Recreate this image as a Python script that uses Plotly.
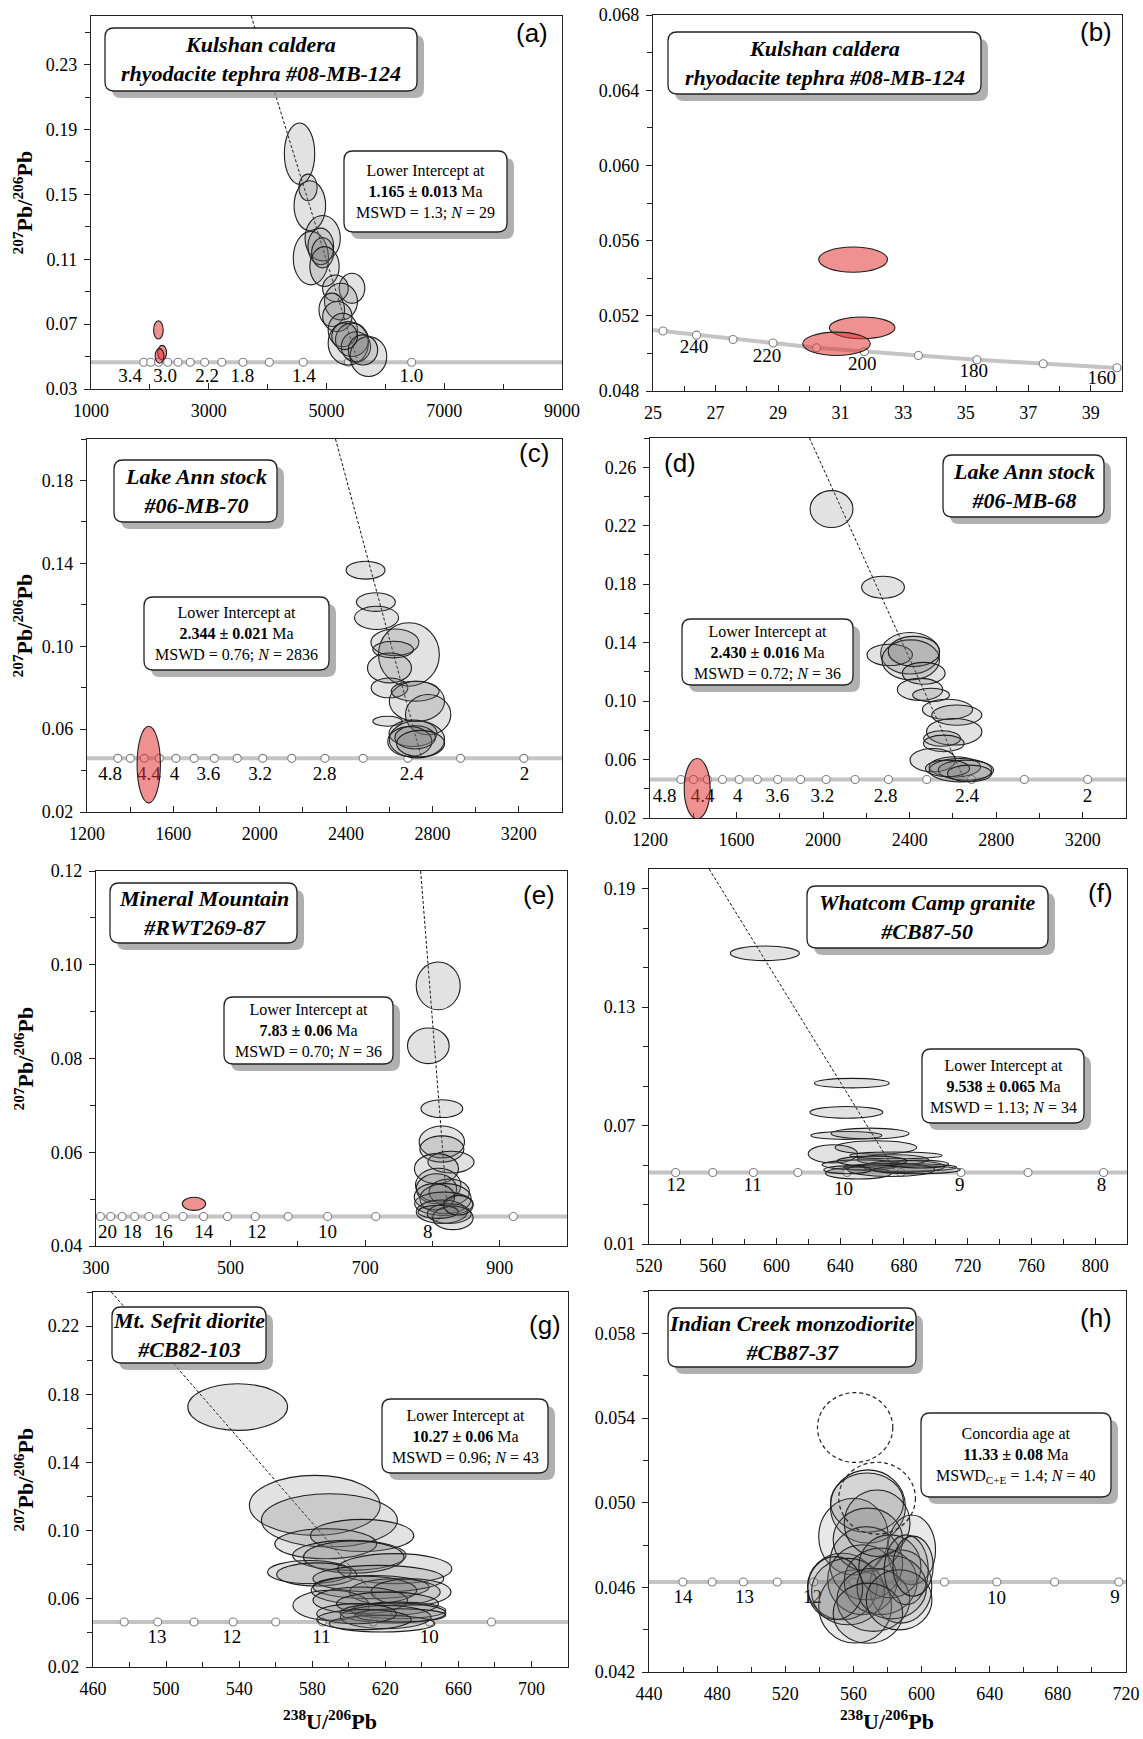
import plotly.graph_objects as go

W, H = 1143, 1739
SERIF = "Liberation Serif, Times New Roman, serif"
SANS = "Liberation Sans, Arial, sans-serif"

# ======================= DATA =======================
# ---- (a) Kulshan caldera tephra ----
A_cx = [4542, 4686, 4717, 4735, 4935, 4903, 4935, 4966, 5433, 5152, 5246, 5090, 5184, 5277, 5370, 5433, 5500, 5713, 5620, 5308]
A_cy = [0.1751, 0.1543, 0.1430, 0.1107, 0.1230, 0.1179, 0.1140, 0.1055, 0.0921, 0.0921, 0.0839, 0.0788, 0.0747, 0.0664, 0.0582, 0.0603, 0.0560, 0.0500, 0.0541, 0.0625]
A_rx = [258, 156, 268, 299, 299, 218, 187, 249, 218, 218, 280, 218, 249, 249, 342, 280, 249, 311, 249, 218]
A_ry = [0.0189, 0.0082, 0.0154, 0.0165, 0.0140, 0.0113, 0.0093, 0.0123, 0.0093, 0.0082, 0.0113, 0.0103, 0.0093, 0.0103, 0.0134, 0.0103, 0.0093, 0.0123, 0.0093, 0.0082]
A_red_cx = [2145, 2208, 2164]
A_red_cy = [0.0664, 0.0524, 0.0504]
A_red_rx = [81, 75, 75]
A_red_ry = [0.0056, 0.0045, 0.0045]
A_conc_y = 0.0465
A_mark_x = [1896, 2014, 2148, 2302, 2479, 2686, 2930, 3223, 3581, 4029, 4604, 5372, 6446]
A_lab_t = ["3.4", "3.0", "2.2", "1.8", "1.4", "1.0"]
A_lab_x = [1666, 2258, 2973, 3571, 4617, 6441]
A_lab_y = [0.0370] * 6
A_disc_x = [3721, 5533]
A_disc_y = [0.26, 0.0465]

# ---- (b) Kulshan caldera, inherited zircon ----
B_red_cx = [31.40, 31.69, 30.87]
B_red_cy = [0.05499, 0.05136, 0.05051]
B_red_rx = [1.10, 1.05, 1.08]
B_red_ry = [0.00067, 0.00058, 0.00062]
B_mark_x = [25.32, 26.39, 27.56, 28.84, 30.23, 31.76, 33.49, 35.36, 37.48, 39.84]
B_mark_y = [0.05119, 0.05097, 0.05074, 0.05055, 0.05030, 0.05009, 0.04989, 0.04966, 0.04945, 0.04924]
B_edge_x = [25.0, 40.0]
B_edge_y = [0.05125, 0.04921]
B_lab_t = ["240", "220", "200", "180", "160"]
B_lab_x = [26.31, 28.65, 31.69, 35.26, 39.35]
B_lab_y = [0.0503, 0.04982, 0.04936, 0.04901, 0.04862]

# ---- (c) Lake Ann stock #06-MB-70 ----
C_cx = [2490, 2538, 2541, 2626, 2691, 2618, 2601, 2601, 2720, 2728, 2780, 2592, 2710, 2728, 2695, 2720, 2745]
C_cy = [0.1367, 0.1213, 0.1137, 0.1019, 0.0960, 0.0984, 0.0895, 0.0799, 0.0783, 0.0734, 0.0670, 0.0638, 0.0580, 0.0550, 0.0540, 0.0560, 0.0530]
C_rx = [90, 90, 102, 111, 141, 94, 102, 85, 111, 128, 105, 68, 111, 128, 102, 94, 111]
C_ry = [0.0043, 0.0045, 0.0056, 0.0064, 0.0153, 0.0040, 0.0072, 0.0048, 0.0048, 0.0097, 0.0097, 0.0024, 0.0064, 0.0089, 0.0072, 0.0056, 0.0064]
C_red_cx = [1486]
C_red_cy = [0.0429]
C_red_rx = [54]
C_red_ry = [0.0185]
C_conc_y = 0.0459
C_mark_x = [1343, 1401, 1465, 1535, 1612, 1696, 1790, 1896, 2014, 2148, 2302, 2479, 2686, 2930, 3223]
C_lab_t = ["4.8", "4.4", "4", "3.6", "3.2", "2.8", "2.4", "2"]
C_lab_x = [1307, 1486, 1605, 1762, 2002, 2300, 2703, 3226]
C_lab_y = [0.0375] * 8
C_disc_x = [2351, 2750]
C_disc_y = [0.20, 0.0459]

# ---- (d) Lake Ann stock #06-MB-68 ----
D_cx = [2039, 2277, 2402, 2308, 2405, 2420, 2465, 2448, 2499, 2575, 2618, 2606, 2550, 2558, 2507, 2609, 2635, 2660, 2575, 2677]
D_cy = [0.2314, 0.1779, 0.1327, 0.1316, 0.1282, 0.1340, 0.1190, 0.1080, 0.1042, 0.0943, 0.0904, 0.0790, 0.0744, 0.0710, 0.0596, 0.0550, 0.0527, 0.0527, 0.0539, 0.0505]
D_rx = [99, 99, 136, 105, 133, 119, 99, 105, 85, 116, 116, 128, 85, 94, 105, 119, 145, 128, 102, 102]
D_ry = [0.0126, 0.0075, 0.0142, 0.0073, 0.0137, 0.0103, 0.0075, 0.0075, 0.0046, 0.0069, 0.0069, 0.0091, 0.0053, 0.0057, 0.0080, 0.0069, 0.0080, 0.0069, 0.0057, 0.0057]
D_red_cx = [1418]
D_red_cy = [0.0401]
D_red_rx = [60]
D_red_ry = [0.0206]
D_conc_y = 0.0463
D_mark_x = [1343, 1401, 1465, 1535, 1612, 1696, 1790, 1896, 2014, 2148, 2302, 2479, 2686, 2930, 3223]
D_lab_t = ["4.8", "4.4", "4", "3.6", "3.2", "2.8", "2.4", "2"]
D_lab_x = [1268, 1443, 1605, 1789, 1997, 2289, 2666, 3222]
D_lab_y = [0.0344] * 8
D_disc_x = [1937, 2653]
D_disc_y = [0.28, 0.0463]

# ---- (e) Mineral Mountain #RWT269-87 ----
E_cx = [808.6, 793.9, 814.0, 814.0, 814.0, 827.6, 806.0, 808.6, 806.0, 825.0, 819.5, 817.0, 803.0, 814.0, 825.0, 830.5, 808.6, 838.6]
E_cy = [0.0955, 0.0827, 0.0693, 0.0622, 0.0607, 0.0579, 0.0565, 0.0530, 0.0522, 0.0515, 0.0501, 0.0490, 0.0505, 0.0473, 0.0469, 0.0460, 0.0473, 0.0487]
E_rx = [32.7, 31.0, 31.0, 33.7, 32.7, 34.3, 32.7, 33.7, 30.0, 30.0, 38.1, 43.5, 30.0, 38.1, 32.7, 30.0, 30.0, 21.8]
E_ry = [0.0051, 0.0038, 0.0019, 0.0034, 0.0028, 0.0023, 0.0032, 0.0036, 0.0032, 0.0028, 0.0032, 0.0025, 0.0028, 0.0025, 0.0021, 0.0025, 0.0014, 0.0021]
E_red_cx = [445.6]
E_red_cy = [0.0490]
E_red_rx = [17.4]
E_red_ry = [0.0014]
E_conc_y = 0.0463
E_mark_x = [306.5, 321.8, 338.8, 357.6, 378.6, 402.4, 429.3, 459.9, 495.4, 536.7, 585.5, 644.2, 715.8, 805.3, 920.3]
E_lab_t = ["20", "18", "16", "14", "12", "10", "8"]
E_lab_x = [317, 354, 400, 460, 539, 644, 793]
E_lab_y = [0.0428] * 7
E_disc_x = [782.5, 823]
E_disc_y = [0.12, 0.0463]

# ---- (f) Whatcom Camp granite #CB87-50 ----
F_cx = [592.7, 647.3, 643.9, 643.9, 658.7, 635.4, 662.4, 673.0, 675.0, 653.7, 677.7, 680.0, 651.4, 672.0, 688.0, 644.6, 690.0, 660.0]
F_cy = [0.1573, 0.0915, 0.0767, 0.0650, 0.0660, 0.0557, 0.0589, 0.0527, 0.0549, 0.0501, 0.0488, 0.0493, 0.0459, 0.0476, 0.0476, 0.0476, 0.0505, 0.0520]
F_rx = [21.7, 23.5, 22.9, 22.3, 24.5, 15.5, 25.6, 22.4, 29.0, 25.1, 35.4, 25.6, 20.6, 27.4, 27.4, 14.9, 18.0, 22.0]
F_ry = [0.0037, 0.0024, 0.0030, 0.0020, 0.0027, 0.0046, 0.0034, 0.0025, 0.0017, 0.0025, 0.0020, 0.0030, 0.0030, 0.0034, 0.0020, 0.0020, 0.0020, 0.0025]
F_conc_y = 0.0462
F_mark_x = [536.7, 560.0, 585.5, 613.4, 644.2, 678.1, 715.8, 757.9, 805.3]
F_lab_t = ["12", "11", "10", "9", "8"]
F_lab_x = [537, 585, 642, 715, 804]
F_lab_y = [0.0391, 0.0391, 0.0374, 0.0391, 0.0391]
F_disc_x = [557.7, 675.0]
F_disc_y = [0.20, 0.0462]

# ---- (g) Mt. Sefrit diorite #CB82-103 ----
G_cx = [539.2, 581.4, 589.4, 607.3, 587.4, 600.3, 602.7, 578.4, 582.4, 625.2, 616.2, 612.2, 625.2, 608.3, 634.1, 590.3, 606.3, 621.2, 627.2, 624.2, 620.2, 618.2, 628.2, 604.3, 608.3]
G_cy = [0.1725, 0.1148, 0.1060, 0.0972, 0.0923, 0.0855, 0.0845, 0.0757, 0.0743, 0.0777, 0.0718, 0.0669, 0.0640, 0.0650, 0.0640, 0.0562, 0.0591, 0.0571, 0.0532, 0.0517, 0.0493, 0.0454, 0.0503, 0.0513, 0.0478]
G_rx = [27.3, 35.8, 37.2, 28.3, 27.9, 31.0, 27.5, 22.9, 21.9, 31.2, 35.8, 31.8, 24.9, 28.9, 21.9, 20.9, 25.9, 27.9, 25.9, 28.9, 24.9, 28.9, 24.9, 21.9, 25.9]
G_ry = [0.0137, 0.0176, 0.0156, 0.0094, 0.0088, 0.0088, 0.0094, 0.0068, 0.0068, 0.0088, 0.0078, 0.0068, 0.0078, 0.0082, 0.0078, 0.0088, 0.0078, 0.0068, 0.0049, 0.0059, 0.0068, 0.0049, 0.0039, 0.0059, 0.0059]
G_conc_y = 0.0464
G_mark_x = [477.1, 495.4, 515.3, 536.7, 560.0, 585.5, 613.4, 644.2, 678.1]
G_lab_t = ["13", "12", "11", "10"]
G_lab_x = [495, 536, 585, 644]
G_lab_y = [0.0370] * 4
G_disc_x = [470.0, 627.2]
G_disc_y = [0.24, 0.0464]

# ---- (h) Indian Creek monzodiorite #CB87-37 ----
H_cx = [568.5, 560.0, 568.0, 594.2, 587.8, 553.5, 561.0, 567.5, 568.5, 565.3, 556.8, 576.0, 581.4, 571.7, 582.5, 573.9, 591.0, 549.3, 568.5, 586.8, 595.0]
H_cy = [0.04982, 0.04840, 0.05000, 0.04777, 0.04604, 0.04604, 0.04510, 0.04714, 0.04825, 0.04636, 0.04580, 0.04628, 0.04699, 0.04541, 0.04600, 0.04903, 0.04683, 0.04596, 0.04478, 0.04541, 0.04700]
H_rx = [22.0, 20.4, 21.4, 14.0, 18.2, 20.4, 21.4, 21.4, 20.4, 20.4, 21.4, 21.4, 18.2, 21.4, 20.4, 19.3, 12.9, 16.1, 20.4, 19.3, 11.8]
H_ry = [0.00173, 0.00181, 0.00140, 0.00165, 0.00173, 0.00157, 0.00173, 0.00173, 0.00149, 0.00165, 0.00157, 0.00157, 0.00149, 0.00149, 0.00149, 0.00157, 0.00165, 0.00149, 0.00142, 0.00142, 0.00142]
H_dash_cx = [561.0, 573.9]
H_dash_cy = [0.05355, 0.05021]
H_dash_rx = [22.1, 22.5]
H_dash_ry = [0.00165, 0.00170]
H_conc_y = 0.04625
H_mark_x = [459.9, 477.1, 495.4, 515.3, 536.7, 560.0, 585.5, 613.4, 644.2, 678.1, 715.8]
H_lab_t = ["14", "13", "12", "10", "9"]
H_lab_x = [460, 496, 536, 644, 713.6]
H_lab_y = [0.0455, 0.0455, 0.0455, 0.04545, 0.0455]

# ---- text ----
TITLES = ["Kulshan caldera<br>rhyodacite tephra #08-MB-124",
          "Kulshan caldera<br>rhyodacite tephra #08-MB-124",
          "Lake Ann stock<br>#06-MB-70",
          "Lake Ann stock<br>#06-MB-68",
          "Mineral Mountain<br>#RWT269-87",
          "Whatcom Camp granite<br>#CB87-50",
          "Mt. Sefrit diorite<br>#CB82-103",
          "Indian Creek monzodiorite<br>#CB87-37"]
STATS = ["Lower Intercept at<br><b>1.165 ± 0.013</b> Ma<br>MSWD = 1.3; <i>N</i> = 29",
         None,
         "Lower Intercept at<br><b>2.344 ± 0.021</b> Ma<br>MSWD = 0.76; <i>N</i> = 2836",
         "Lower Intercept at<br><b>2.430 ± 0.016</b> Ma<br>MSWD = 0.72; <i>N</i> = 36",
         "Lower Intercept at<br><b>7.83 ± 0.06</b> Ma<br>MSWD = 0.70; <i>N</i> = 36",
         "Lower Intercept at<br><b>9.538 ± 0.065</b> Ma<br>MSWD = 1.13; <i>N</i> = 34",
         "Lower Intercept at<br><b>10.27 ± 0.06</b> Ma<br>MSWD = 0.96; <i>N</i> = 43",
         "Concordia age at<br><b>11.33 ± 0.08</b> Ma<br>MSWD<sub>C+E</sub> = 1.4; <i>N</i> = 40"]
LETTERS = ["(a)", "(b)", "(c)", "(d)", "(e)", "(f)", "(g)", "(h)"]

# ======================= LAYOUT (positions / styles) =======================
AX = [
    ((91, 16, 562, 389), [1000, 9000], 1000, 2000, 1000, [0.03, 0.26], 0.03, 0.04, 0.02, ".2f"),
    ((653, 15, 1122, 391), [25, 40], 25, 2, 1, [0.048, 0.068], 0.048, 0.004, 0.002, ".3f"),
    ((87, 439, 562, 812), [1200, 3400], 1200, 400, 200, [0.02, 0.20], 0.02, 0.04, 0.02, ".2f"),
    ((650, 438, 1126, 818), [1200, 3400], 1200, 400, 200, [0.02, 0.28], 0.02, 0.04, 0.02, ".2f"),
    ((96, 871, 567, 1246), [300, 1000], 300, 200, 100, [0.04, 0.12], 0.04, 0.02, 0.01, ".2f"),
    ((649, 869, 1127, 1244), [520, 820], 520, 40, 20, [0.01, 0.20], 0.01, 0.06, 0.02, ".2f"),
    ((93, 1292, 568, 1667), [460, 720], 460, 40, 20, [0.02, 0.24], 0.02, 0.04, 0.02, ".2f"),
    ((649, 1291, 1126, 1672), [440, 720], 440, 40, 20, [0.042, 0.060], 0.042, 0.004, 0.002, ".3f"),
]
TITLE_BOX = [(105, 28, 417, 91), (668, 32, 981, 94), (114, 460, 277, 522), (943, 455, 1104, 517),
             (110, 883, 297, 943), (807, 886, 1048, 948), (112, 1307, 266, 1363), (668, 1308, 916, 1367)]
STAT_BOX = [(344, 151, 507, 232), None, (144, 597, 329, 670), (682, 619, 853, 685),
            (224, 997, 393, 1064), (922, 1049, 1084, 1123), (382, 1399, 548, 1473), (921, 1413, 1111, 1497)]
LETTER_POS = [(532, 33), (1096, 32), (534, 453), (680, 463), (539, 895), (1100, 893), (545, 1325), (1096, 1318)]
YTITLE_POS = [(23, 202.5), (23, 625.5), (23, 1058.5), (23, 1479.5)]
XTITLE_POS = [(330, 1720), (887, 1720)]

GRAY_FILL = "rgba(110,110,110,0.20)"
RED_FILL = "rgba(228,55,55,0.55)"
EDGE = "#1e1e1e"

fig = go.Figure()
layout = dict(width=W, height=H, margin=dict(l=0, r=0, t=0, b=0, pad=0), autosize=False,
              paper_bgcolor="white", plot_bgcolor="white", showlegend=False,
              font=dict(family=SERIF, size=18, color="black"))
shapes = []
annotations = []


def px2p(x, y):
    return x / W, 1 - y / H


for i, (box, xr, xt0, xdt, xmn, yr, yt0, ydt, ymn, yfmt) in enumerate(AX):
    n = i + 1
    sfx = "" if n == 1 else str(n)
    l, t, r, b = box
    xeps = (xr[1] - xr[0]) * 1e-6
    yeps = (yr[1] - yr[0]) * 1e-6
    common = dict(showline=True, mirror=True, linecolor="#222", linewidth=1.2,
                  showgrid=False, zeroline=False, tickcolor="#222", automargin=False,
                  tickfont=dict(family=SERIF, size=18, color="black"))
    layout["xaxis" + sfx] = dict(domain=[l / W, r / W], range=[xr[0] - xeps, xr[1] + xeps],
                                 anchor="y" + sfx, tickmode="linear", tick0=xt0, dtick=xdt,
                                 ticks="inside", ticklen=6, ticklabelstandoff=5,
                                 minor=dict(tick0=xt0, dtick=xmn, ticks="inside", ticklen=5, tickcolor="#222"),
                                 **common)
    layout["yaxis" + sfx] = dict(domain=[1 - b / H, 1 - t / H], range=[yr[0] - yeps, yr[1] + yeps],
                                 anchor="x" + sfx, tickmode="linear", tick0=yt0, dtick=ydt,
                                 tickformat=yfmt, ticks="outside", ticklen=6, ticklabelstandoff=3,
                                 minor=dict(tick0=yt0, dtick=ymn, ticks="outside", ticklen=5, tickcolor="#222"),
                                 **common)


def axref(n):
    return ("x", "y") if n == 1 else ("x%d" % n, "y%d" % n)


def add_concordia(n, line_x, line_y, mk_x, mk_y, lab_x, lab_y, lab_t):
    xa, ya = axref(n)
    fig.add_trace(go.Scatter(x=line_x, y=line_y, mode="lines", xaxis=xa, yaxis=ya,
                             line=dict(color="#c4c4c4", width=4), hoverinfo="skip"))
    fig.add_trace(go.Scatter(x=mk_x, y=mk_y, mode="markers", xaxis=xa, yaxis=ya,
                             marker=dict(symbol="circle", size=8, color="white",
                                         line=dict(color="#808080", width=1.1)), hoverinfo="skip"))
    fig.add_trace(go.Scatter(x=lab_x, y=lab_y, mode="text", text=lab_t, xaxis=xa, yaxis=ya,
                             textfont=dict(family=SERIF, size=19, color="black"), hoverinfo="skip"))


def add_discordia(n, dx, dy):
    xa, ya = axref(n)
    fig.add_trace(go.Scatter(x=dx, y=dy, mode="lines", xaxis=xa, yaxis=ya,
                             line=dict(color="#111", width=1, dash="3px,2px"), hoverinfo="skip"))


def add_ellipses(n, cx, cy, rx, ry, fill, color=EDGE, width=1.1, dash="solid"):
    xa, ya = axref(n)
    for x, y, a, b in zip(cx, cy, rx, ry):
        shapes.append(dict(type="circle", xref=xa, yref=ya, x0=x - a, x1=x + a, y0=y - b, y1=y + b,
                           fillcolor=fill, line=dict(color=color, width=width, dash=dash), layer="above"))


def flat(xr, yc, mk_x):
    return [xr[0], xr[1]], [yc, yc], mk_x, [yc] * len(mk_x)


lx, ly, mx, my = flat(AX[0][1], A_conc_y, A_mark_x)
add_discordia(1, A_disc_x, A_disc_y)
add_concordia(1, lx, ly, mx, my, A_lab_x, A_lab_y, A_lab_t)

add_concordia(2, [B_edge_x[0]] + B_mark_x + [B_edge_x[1]], [B_edge_y[0]] + B_mark_y + [B_edge_y[1]],
              B_mark_x, B_mark_y, B_lab_x, B_lab_y, B_lab_t)

lx, ly, mx, my = flat(AX[2][1], C_conc_y, C_mark_x)
add_discordia(3, C_disc_x, C_disc_y)
add_concordia(3, lx, ly, mx, my, C_lab_x, C_lab_y, C_lab_t)

lx, ly, mx, my = flat(AX[3][1], D_conc_y, D_mark_x)
add_discordia(4, D_disc_x, D_disc_y)
add_concordia(4, lx, ly, mx, my, D_lab_x, D_lab_y, D_lab_t)

lx, ly, mx, my = flat(AX[4][1], E_conc_y, E_mark_x)
add_discordia(5, E_disc_x, E_disc_y)
add_concordia(5, lx, ly, mx, my, E_lab_x, E_lab_y, E_lab_t)

lx, ly, mx, my = flat(AX[5][1], F_conc_y, F_mark_x)
add_discordia(6, F_disc_x, F_disc_y)
add_concordia(6, lx, ly, mx, my, F_lab_x, F_lab_y, F_lab_t)

lx, ly, mx, my = flat(AX[6][1], G_conc_y, G_mark_x)
add_discordia(7, G_disc_x, G_disc_y)
add_concordia(7, lx, ly, mx, my, G_lab_x, G_lab_y, G_lab_t)

lx, ly, mx, my = flat(AX[7][1], H_conc_y, H_mark_x)
add_concordia(8, lx, ly, mx, my, H_lab_x, H_lab_y, H_lab_t)

add_ellipses(1, A_cx, A_cy, A_rx, A_ry, GRAY_FILL)
add_ellipses(1, A_red_cx, A_red_cy, A_red_rx, A_red_ry, RED_FILL)
add_ellipses(2, B_red_cx, B_red_cy, B_red_rx, B_red_ry, RED_FILL)
add_ellipses(3, C_cx, C_cy, C_rx, C_ry, GRAY_FILL)
add_ellipses(3, C_red_cx, C_red_cy, C_red_rx, C_red_ry, RED_FILL)
add_ellipses(4, D_cx, D_cy, D_rx, D_ry, GRAY_FILL)
add_ellipses(4, D_red_cx, D_red_cy, D_red_rx, D_red_ry, RED_FILL)
add_ellipses(5, E_cx, E_cy, E_rx, E_ry, GRAY_FILL)
add_ellipses(5, E_red_cx, E_red_cy, E_red_rx, E_red_ry, RED_FILL)
add_ellipses(6, F_cx, F_cy, F_rx, F_ry, GRAY_FILL)
add_ellipses(7, G_cx, G_cy, G_rx, G_ry, GRAY_FILL)
add_ellipses(8, H_cx, H_cy, H_rx, H_ry, "rgba(110,110,110,0.16)")
add_ellipses(8, H_dash_cx, H_dash_cy, H_dash_rx, H_dash_ry, "rgba(0,0,0,0)", color="#222", width=1.2, dash="4px,3px")


def rrect_path(x0, y0, x1, y1, r):
    P = lambda x, y: "%.5f,%.5f" % px2p(x, y)
    return ("M " + P(x0 + r, y0) + " L " + P(x1 - r, y0) + " Q " + P(x1, y0) + " " + P(x1, y0 + r) +
            " L " + P(x1, y1 - r) + " Q " + P(x1, y1) + " " + P(x1 - r, y1) +
            " L " + P(x0 + r, y1) + " Q " + P(x0, y1) + " " + P(x0, y1 - r) +
            " L " + P(x0, y0 + r) + " Q " + P(x0, y0) + " " + P(x0 + r, y0) + " Z")


def add_box(box, text, font):
    x0, y0, x1, y1 = box
    shapes.append(dict(type="path", xref="paper", yref="paper", layer="above",
                       path=rrect_path(x0 + 7, y0 + 7, x1 + 7, y1 + 7, 9),
                       fillcolor="rgba(150,150,150,0.75)", line=dict(width=0)))
    shapes.append(dict(type="path", xref="paper", yref="paper", layer="above",
                       path=rrect_path(x0, y0, x1, y1, 9),
                       fillcolor="white", line=dict(color="#222", width=1.3)))
    cx, cy = px2p((x0 + x1) / 2, (y0 + y1) / 2)
    annotations.append(dict(x=cx, y=cy, xref="paper", yref="paper", xanchor="center", yanchor="middle",
                            showarrow=False, text=text, font=font, align="center"))


for i in range(8):
    add_box(TITLE_BOX[i], "<b><i>" + TITLES[i] + "</i></b>", dict(family=SERIF, size=22, color="black"))
    if STATS[i] is not None:
        add_box(STAT_BOX[i], STATS[i], dict(family=SERIF, size=16, color="black"))
    lxp, lyp = px2p(*LETTER_POS[i])
    annotations.append(dict(x=lxp, y=lyp, xref="paper", yref="paper", xanchor="center", yanchor="middle",
                            showarrow=False, text=LETTERS[i], font=dict(family=SANS, size=26, color="black")))

for (xc, yc) in YTITLE_POS:
    xp, yp = px2p(xc, yc)
    annotations.append(dict(x=xp, y=yp, xref="paper", yref="paper", xanchor="center", yanchor="middle",
                            showarrow=False, textangle=-90,
                            text="<b><sup>207</sup>Pb/<sup>206</sup>Pb</b>",
                            font=dict(family=SERIF, size=22, color="black")))
for (xc, yc) in XTITLE_POS:
    xp, yp = px2p(xc, yc)
    annotations.append(dict(x=xp, y=yp, xref="paper", yref="paper", xanchor="center", yanchor="middle",
                            showarrow=False, text="<b><sup>238</sup>U/<sup>206</sup>Pb</b>",
                            font=dict(family=SERIF, size=22, color="black")))

layout["shapes"] = shapes
layout["annotations"] = annotations
fig.update_layout(**layout)
fig.write_html("out.html", config={"displayModeBar": False},
               post_script="document.body.style.margin='0px';")
